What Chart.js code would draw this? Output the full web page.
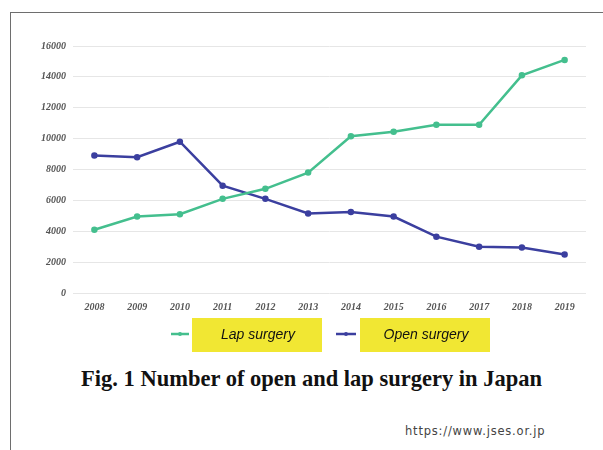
<!DOCTYPE html>
<html><head><meta charset="utf-8">
<script src="https://cdn.jsdelivr.net/npm/chart.js@4/dist/chart.umd.min.js"></script>
<style>
html,body{margin:0;padding:0;background:#fff;width:603px;height:450px;overflow:hidden;position:relative}
#frame{position:absolute;left:10px;top:12px;width:700px;height:600px;border-left:1px solid #6e6e6e;border-top:1px solid #6e6e6e}
#wrap{position:absolute;left:0;top:0;width:603px;height:360px}
#title{position:absolute;left:0;width:623px;top:366px;text-align:center;font-family:'Liberation Serif',serif;font-weight:bold;font-size:22.5px;color:#111;white-space:nowrap}
#url{position:absolute;left:405px;top:424px;font-family:'DejaVu Sans',sans-serif;font-size:11.5px;color:#444;letter-spacing:0.8px}
</style></head><body>
<div id="frame"></div>
<div id="wrap"><canvas id="c" width="603" height="360"></canvas></div>
<div id="title">Fig. 1 Number of open and lap surgery in Japan</div>
<div id="url">https://www.jses.or.jp</div>
<script>
const years = ['2008','2009','2010','2011','2012','2013','2014','2015','2016','2017','2018','2019'];
const lapSurgery = [4100,4950,5100,6100,6750,7800,10150,10450,10900,10900,14100,15100];
const openSurgery = [8900,8800,9800,6950,6100,5150,5250,4950,3650,3000,2950,2500];
const yTicks = [0,2000,4000,6000,8000,10000,12000,14000,16000];

const green = '#44bf8e', blue = '#3b3f9f';

const customLegend = {
  id:'customLegend',
  afterDraw(chart){
    const ctx = chart.ctx;
    const items = [
      {ds:chart.data.datasets[0], x1:171, x2:189, box:[192,318,130,34], tx:258},
      {ds:chart.data.datasets[1], x1:336, x2:356, box:[360,318,130,34], tx:426}
    ];
    const y = 334;
    ctx.save();
    items.forEach(it=>{
      ctx.strokeStyle = it.ds.borderColor; ctx.lineWidth = 2.5;
      ctx.beginPath(); ctx.moveTo(it.x1,y); ctx.lineTo(it.x2,y); ctx.stroke();
      ctx.fillStyle = it.ds.borderColor;
      ctx.beginPath(); ctx.arc((it.x1+it.x2)/2,y,2,0,Math.PI*2); ctx.fill();
      ctx.fillStyle = '#f1e733';
      ctx.fillRect(...it.box);
      ctx.fillStyle = '#111';
      ctx.font = 'italic 14px "Liberation Sans", Arial, sans-serif';
      ctx.textAlign = 'center'; ctx.textBaseline = 'middle';
      ctx.fillText(it.ds.label, it.tx, y+1);
    });
    ctx.restore();
  }
};

new Chart(document.getElementById('c'), {
  type:'line',
  data:{
    labels: years,
    datasets:[
      {label:'Lap surgery', data:lapSurgery, borderColor:green, backgroundColor:green, borderWidth:2.5, pointRadius:2, pointHoverRadius:2, tension:0},
      {label:'Open surgery', data:openSurgery, borderColor:blue, backgroundColor:blue, borderWidth:2.5, pointRadius:2, pointHoverRadius:2, tension:0}
    ]
  },
  options:{
    responsive:false, animation:false,
    layout:{padding:{left:0,right:17,top:46,bottom:42}},
    plugins:{legend:{display:false}, tooltip:{enabled:false}},
    scales:{
      x:{
        offset:true,
        grid:{display:false, drawTicks:false},
        border:{display:false},
        ticks:{padding:8, color:'#555', font:{family:'"Liberation Serif", serif', style:'italic', weight:'bold', size:10}, maxRotation:0, autoSkip:false},
        afterFit(s){ s.height = 25; }
      },
      y:{
        min:0, max:16000,
        afterBuildTicks(s){ s.ticks = yTicks.map(v=>({value:v})); },
        grid:{color:'#e6e6e6', lineWidth:1, drawTicks:false},
        border:{display:false},
        ticks:{padding:7, color:'#555', font:{family:'"Liberation Serif", serif', style:'italic', weight:'bold', size:10}, callback:(v)=>String(v)},
        afterFit(s){ s.width = 73; }
      }
    }
  },
  plugins:[customLegend]
});
</script>
</body></html>
